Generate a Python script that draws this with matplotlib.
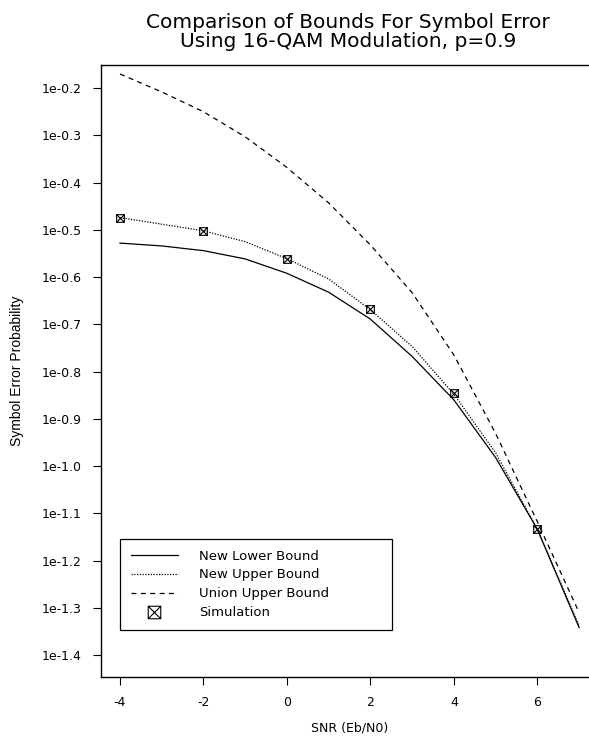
import matplotlib.pyplot as plt
from matplotlib.path import Path

# SNR values (Eb/N0, dB)
snr = [-4, -3, -2, -1, 0, 1, 2, 3, 4, 5, 6, 7]
# log10 of symbol error probability
lowerBound = [-0.528, -0.534, -0.544, -0.5615, -0.592, -0.632, -0.689, -0.768, -0.860, -0.982, -1.134, -1.342]
upperBound = [-0.474, -0.488, -0.502, -0.525, -0.561, -0.604, -0.669, -0.747, -0.848, -0.972, -1.134, -1.338]
unionBound = [-0.170, -0.208, -0.250, -0.303, -0.368, -0.443, -0.532, -0.633, -0.765, -0.931, -1.118, -1.310]

simSnr = [-4, -2, 0, 2, 4, 6]
simValues = [-0.474, -0.502, -0.561, -0.667, -0.846, -1.134]

yTicks = [-0.2, -0.3, -0.4, -0.5, -0.6, -0.7, -0.8, -0.9, -1.0, -1.1, -1.2, -1.3, -1.4]
yTickLabels = [f'1e{t:.1f}' for t in yTicks]
xTicks = [-4, -2, 0, 2, 4, 6]

plt.rcParams['font.family'] = ['DejaVu Sans']

# boxed-x marker
boxX = Path([(-1, -1), (1, -1), (1, 1), (-1, 1), (-1, -1),
             (-1, -1), (1, 1), (-1, 1), (1, -1)],
            [Path.MOVETO, Path.LINETO, Path.LINETO, Path.LINETO, Path.CLOSEPOLY,
             Path.MOVETO, Path.LINETO, Path.MOVETO, Path.LINETO])

fig = plt.figure(figsize=(5.89, 7.44), dpi=100)
ax = fig.add_axes([101 / 589, 67 / 744, 499 / 589, 612 / 744])

ax.plot(snr, lowerBound, color='black', linewidth=0.9, label='New Lower Bound')
ax.plot(snr, upperBound, color='black', linewidth=0.9, linestyle=(0, (1, 1.2)), label='New Upper Bound')
ax.plot(snr, unionBound, color='black', linewidth=0.9, linestyle=(0, (4, 3.5)), label='Union Upper Bound')
ax.plot(simSnr, simValues, linestyle='none', marker=boxX, markersize=5.5, markerfacecolor='none',
        markeredgecolor='black', markeredgewidth=0.8, label='Simulation')

ax.set_xlim(-4.455, 7.5)
ax.set_ylim(-1.4465, -0.151)
ax.set_xticks(xTicks)
ax.set_xticklabels([str(t) for t in xTicks])
ax.set_yticks(yTicks)
ax.set_yticklabels(yTickLabels)
ax.tick_params(direction='out', length=6, width=0.8, labelsize=9)
ax.tick_params(axis='x', pad=8)
ax.tick_params(axis='y', pad=8)
for s in ax.spines.values():
    s.set_linewidth(1.0)

fig.text(350 / 589, 1 - 728 / 744, 'SNR (Eb/N0)', ha='center', va='center', fontsize=9)
fig.text(17 / 589, 1 - 371 / 744, 'Symbol Error Probability', rotation=90,
         ha='center', va='center', fontsize=10, family='Liberation Sans')

fig.text(348 / 589, 1 - 32 / 744, 'Comparison of Bounds For Symbol Error\nUsing 16-QAM Modulation, p=0.9',
         ha='center', va='center', fontsize=14.5, linespacing=1.05)

leg = ax.legend(loc='upper left', bbox_to_anchor=(120 / 589, 1 - 539 / 744, 272 / 589, 0.0),
                bbox_transform=fig.transFigure, mode='expand', borderaxespad=0,
                fancybox=False, edgecolor='black', fontsize=9.5, handlelength=3.6,
                handletextpad=1.6, labelspacing=0.45, borderpad=0.8, framealpha=1)
leg.get_frame().set_linewidth(0.9)
leg.legend_handles[3].set_markersize(9)

fig.savefig('out.png', dpi=100)
